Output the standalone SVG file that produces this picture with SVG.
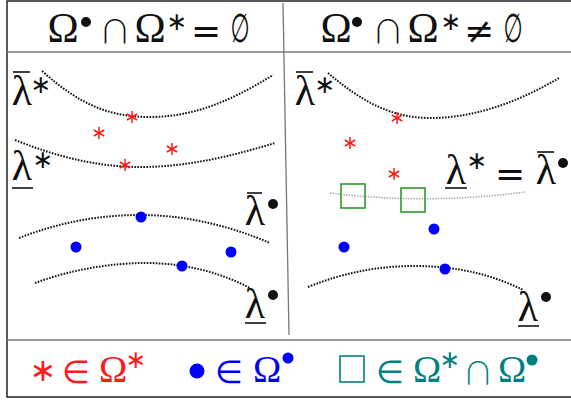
<svg xmlns="http://www.w3.org/2000/svg" xmlns:xlink="http://www.w3.org/1999/xlink" width="571" height="403" viewBox="0 0 571 403">
<style>
.frame{fill:none;stroke:#222;stroke-width:1.5}
.grid{fill:none;stroke:#777;stroke-width:1.3}
.dot{fill:none;stroke:#111;stroke-width:2;stroke-dasharray:1.6 1.4}
.gdot{fill:none;stroke:#aaa;stroke-width:1.5;stroke-dasharray:1.5 1.2}
.m{font-family:"Liberation Serif","DejaVu Serif",serif;fill:#111}
.s{font-family:"DejaVu Sans","Liberation Sans",sans-serif;fill:#111}
.cap{font-family:"Noto Sans CJK SC","DejaVu Sans",sans-serif;font-weight:300;fill:#111}
.h{font-size:42px}
.lab{font-size:42px}
.sup{font-family:"DejaVu Sans",sans-serif;font-size:25px}
.bar{stroke:#111;stroke-width:1.6}
.leg{font-family:"Liberation Serif","DejaVu Serif",serif;font-size:38px}
.sq{fill:none;stroke:#2e9a2e;stroke-width:1.6}
</style>
<defs>
<g id="ast" stroke="#ff1a1a" stroke-width="1.5">
<line x1="0" y1="-6" x2="0" y2="6"/>
<line x1="-5.2" y1="-3" x2="5.2" y2="3"/>
<line x1="-5.2" y1="3" x2="5.2" y2="-3"/>
</g>
</defs>
<rect x="7" y="1" width="570" height="396" class="frame"/>
<line x1="7" y1="52" x2="571" y2="52" class="grid"/>
<line x1="7" y1="340" x2="571" y2="340" class="grid"/>
<line x1="283" y1="3" x2="289" y2="335" class="grid"/>

<g id="header-left" fill="#111">
<text class="m h" x="63" y="42" text-anchor="middle">Ω</text>
<circle cx="86" cy="22" r="5"/>
<text class="cap" x="115" y="43" font-size="32" text-anchor="middle">∩</text>
<text class="m h" x="150" y="42" text-anchor="middle">Ω</text>
<text class="s sup" x="177" y="30" text-anchor="middle">∗</text>
<text class="s" x="206" y="43" font-size="36" text-anchor="middle">=</text>
<text class="s" transform="translate(240,42) scale(0.55,1)" font-size="40" text-anchor="middle">∅</text>
</g>
<g id="header-right" fill="#111">
<text class="m h" x="336" y="42" text-anchor="middle">Ω</text>
<circle cx="357" cy="22" r="5"/>
<text class="cap" x="388" y="43" font-size="32" text-anchor="middle">∩</text>
<text class="m h" x="423" y="42" text-anchor="middle">Ω</text>
<text class="s sup" x="451" y="30" text-anchor="middle">∗</text>
<text class="s" x="479" y="43" font-size="36" text-anchor="middle">≠</text>
<text class="s" transform="translate(513,42) scale(0.55,1)" font-size="40" text-anchor="middle">∅</text>
</g>

<g id="connectors">
<path class="dot" d="M42,71 C80,105 110,117 150,117 C200,117 240,95 273,75"/>
<path class="dot" d="M15,140 C60,158 100,167 140,167 C190,167 235,155 275,143"/>
<path class="dot" d="M19,238 C60,222 100,215 140,215 C190,215 235,228 270,243"/>
<path class="dot" d="M35,283 C70,270 110,263 145,263 C190,263 225,275 250,288"/>
<path class="dot" d="M328,73 C360,100 390,118 430,118 C480,118 525,98 559,78"/>
<path class="gdot" d="M330,193 Q427,205 525,192"/>
<path class="dot" d="M308,287 C345,272 380,266 415,266 C460,266 495,276 523,290"/>
</g>

<g id="label-lbar-star-left" fill="#111">
<text class="m lab" x="22" y="105" text-anchor="middle">λ</text>
<line class="bar" x1="13" y1="72" x2="30" y2="72"/>
<text class="s sup" x="41" y="93" text-anchor="middle">∗</text>
</g>
<g id="label-lund-star-left" fill="#111">
<text class="m lab" x="22" y="180" text-anchor="middle">λ</text>
<line class="bar" x1="12" y1="188" x2="33" y2="188"/>
<text class="s sup" x="43" y="168" text-anchor="middle">∗</text>
</g>
<g id="label-lbar-bullet-left" fill="#111">
<text class="m lab" x="255" y="225" text-anchor="middle">λ</text>
<line class="bar" x1="247" y1="193" x2="262" y2="193"/>
<circle cx="273" cy="204" r="5"/>
</g>
<g id="label-lund-bullet-left" fill="#111">
<text class="m lab" x="255" y="318" text-anchor="middle">λ</text>
<line class="bar" x1="245" y1="323" x2="266" y2="323"/>
<circle cx="273" cy="295" r="5"/>
</g>
<g id="label-lbar-star-right" fill="#111">
<text class="m lab" x="305" y="105" text-anchor="middle">λ</text>
<line class="bar" x1="296" y1="72" x2="313" y2="72"/>
<text class="s sup" x="325" y="93" text-anchor="middle">∗</text>
</g>
<g id="label-equal-right" fill="#111">
<text class="m lab" x="456" y="184" text-anchor="middle">λ</text>
<line class="bar" x1="445" y1="188" x2="467" y2="188"/>
<text class="s sup" x="477" y="169" text-anchor="middle">∗</text>
<text class="s" x="510" y="186" font-size="36" text-anchor="middle">=</text>
<text class="m lab" x="546" y="184" text-anchor="middle">λ</text>
<line class="bar" x1="537" y1="152" x2="554" y2="152"/>
<circle cx="563" cy="163" r="5"/>
</g>
<g id="label-lund-bullet-right" fill="#111">
<text class="m lab" x="528" y="321" text-anchor="middle">λ</text>
<line class="bar" x1="518" y1="326" x2="539" y2="326"/>
<circle cx="546" cy="297" r="5"/>
</g>

<g id="points-star">
<use xlink:href="#ast" x="132" y="117"/>
<use xlink:href="#ast" x="99" y="133"/>
<use xlink:href="#ast" x="172" y="149"/>
<use xlink:href="#ast" x="125" y="165"/>
<use xlink:href="#ast" x="397" y="118"/>
<use xlink:href="#ast" x="350" y="143"/>
<use xlink:href="#ast" x="394" y="174"/>
</g>
<g id="points-bullet" fill="#0000ff">
<circle cx="141" cy="217" r="5.5"/>
<circle cx="76" cy="247" r="5.5"/>
<circle cx="231" cy="252" r="5.5"/>
<circle cx="182" cy="266" r="5.5"/>
<circle cx="434" cy="229" r="5.5"/>
<circle cx="344" cy="247" r="5.5"/>
<circle cx="445" cy="269" r="5.5"/>
</g>
<g id="points-square">
<rect class="sq" x="341" y="184" width="24" height="24"/>
<rect class="sq" x="401" y="188" width="24" height="24"/>
</g>

<g id="legend-star" style="fill:#ff1a1a">
<text class="s" x="43" y="381" font-size="32" text-anchor="middle" style="fill:#ff1a1a">∗</text>
<text class="s" x="76" y="383" font-size="32" text-anchor="middle" style="fill:#ff1a1a">∈</text>
<text class="leg" x="113" y="382" text-anchor="middle" style="fill:#ff1a1a">Ω</text>
<text class="sup" x="136" y="368" text-anchor="middle" style="fill:#ff1a1a">∗</text>
</g>
<g id="legend-bullet" style="fill:#0000ff">
<circle cx="197" cy="371" r="7.5"/>
<text class="s" x="229" y="383" font-size="32" text-anchor="middle" style="fill:#0000ff">∈</text>
<text class="leg" x="267" y="382" text-anchor="middle" style="fill:#0000ff">Ω</text>
<circle cx="288" cy="358" r="5.5"/>
</g>
<g id="legend-square" style="fill:#008080">
<rect x="340" y="356" width="24" height="26" fill="none" stroke="#008080" stroke-width="1.6"/>
<text class="s" x="390" y="383" font-size="32" text-anchor="middle" style="fill:#008080">∈</text>
<text class="leg" x="427" y="382" text-anchor="middle" style="fill:#008080">Ω</text>
<text class="sup" x="450" y="368" text-anchor="middle" style="fill:#008080">∗</text>
<text class="cap" x="478" y="384" font-size="31" text-anchor="middle" style="fill:#008080">∩</text>
<text class="leg" x="512" y="382" text-anchor="middle" style="fill:#008080">Ω</text>
<circle cx="532" cy="360" r="5.5"/>
</g>
</svg>
